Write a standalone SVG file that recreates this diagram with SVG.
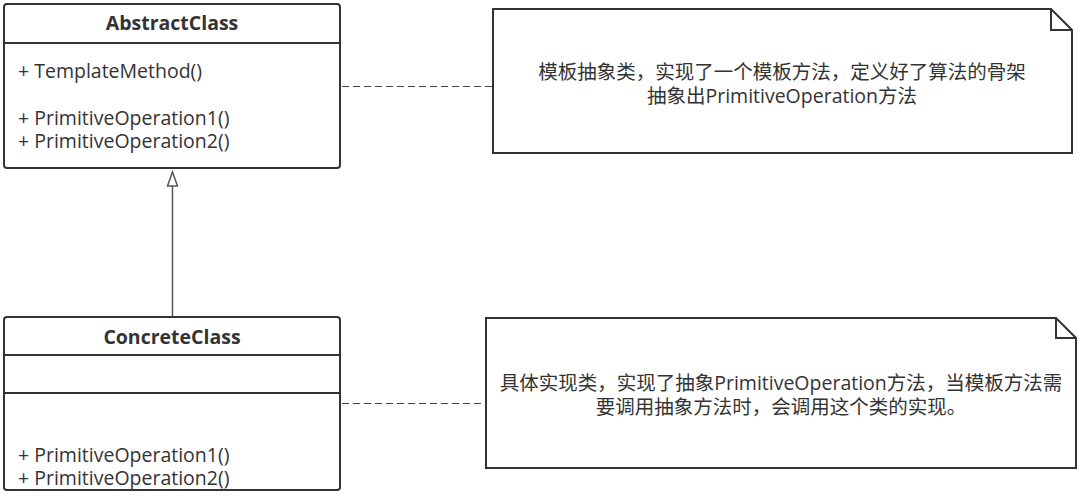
<svg xmlns="http://www.w3.org/2000/svg" width="1080" height="496" viewBox="0 0 1080 496">
<style>
.box{fill:#fff;stroke:#333;stroke-width:2}
.div{stroke:#333;stroke-width:2}
.t{font-family:"Open Sans","Noto Sans CJK SC",sans-serif;font-size:19.5px;fill:#333}
.b{font-weight:bold;text-anchor:middle}
.c{text-anchor:middle}
.dash{stroke:#444;stroke-width:1.2;stroke-dasharray:7,4;fill:none}
.gen{stroke:#555;stroke-width:1.5;fill:none}
</style>
<rect width="1080" height="496" fill="#fff"/>
<g id="connectors">
<line class="gen" x1="172.5" y1="317" x2="172.5" y2="186"/>
<polygon points="172.5,172 167.5,186 177.5,186" fill="#fff" stroke="#555" stroke-width="1.5"/>
<line class="dash" x1="342" y1="86.5" x2="492" y2="86.5"/>
<line class="dash" x1="342" y1="403.5" x2="486" y2="403.5"/>
</g>
<g id="AbstractClass">
<rect class="box" x="4" y="4" width="336" height="164" rx="3"/>
<line class="div" x1="4" y1="43" x2="340" y2="43"/>
<text class="t b" x="172" y="30">AbstractClass</text>
<text class="t" x="18" y="78">+ TemplateMethod()</text>
<text class="t" x="18" y="125">+ PrimitiveOperation1()</text>
<text class="t" x="18" y="148">+ PrimitiveOperation2()</text>
</g>
<g id="ConcreteClass">
<rect class="box" x="4" y="317" width="336" height="173" rx="3"/>
<line class="div" x1="4" y1="355" x2="340" y2="355"/>
<line class="div" x1="4" y1="393" x2="340" y2="393"/>
<text class="t b" x="172" y="344">ConcreteClass</text>
<text class="t" x="18" y="462">+ PrimitiveOperation1()</text>
<text class="t" x="18" y="485">+ PrimitiveOperation2()</text>
</g>
<g id="note1">
<path class="box" d="M493,9 H1051 L1072,30 V153 H493 Z"/>
<path d="M1051,9 V30 H1072" fill="none" stroke="#333" stroke-width="2"/>
<text class="t c" x="782" y="79">模板抽象类，实现了一个模板方法，定义好了算法的骨架</text>
<text class="t c" x="782" y="103">抽象出PrimitiveOperation方法</text>
</g>
<g id="note2">
<path class="box" d="M486,318 H1056 L1076,338 V468 H486 Z"/>
<path d="M1056,318 V338 H1076" fill="none" stroke="#333" stroke-width="2"/>
<text class="t c" x="781" y="390">具体实现类，实现了抽象PrimitiveOperation方法，当模板方法需</text>
<text class="t c" x="781" y="414">要调用抽象方法时，会调用这个类的实现。</text>
</g>
</svg>
